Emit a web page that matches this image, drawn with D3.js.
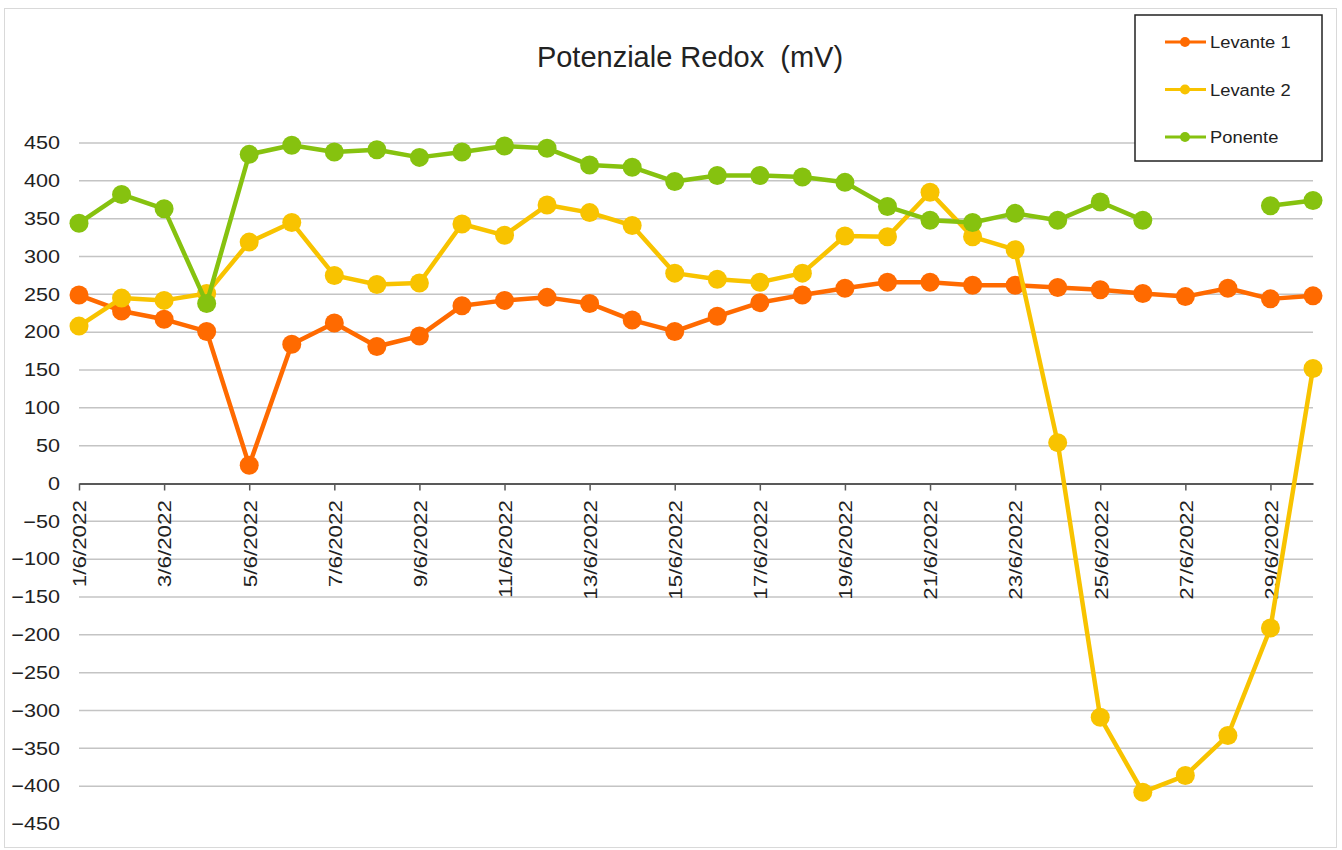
<!DOCTYPE html>
<html>
<head>
<meta charset="utf-8">
<script src="https://cdn.jsdelivr.net/npm/d3@7"></script>
<style>
  body { margin: 0; background: #fff; }
  svg text { font-family: "Liberation Sans", Arial, sans-serif; fill: #222; }
</style>
</head>
<body>
<div id="chart"></div>
<script>
const dates = ["1/6/2022", "2/6/2022", "3/6/2022", "4/6/2022", "5/6/2022", "6/6/2022",
  "7/6/2022", "8/6/2022", "9/6/2022", "10/6/2022", "11/6/2022", "12/6/2022",
  "13/6/2022", "14/6/2022", "15/6/2022", "16/6/2022", "17/6/2022", "18/6/2022",
  "19/6/2022", "20/6/2022", "21/6/2022", "22/6/2022", "23/6/2022", "24/6/2022",
  "25/6/2022", "26/6/2022", "27/6/2022", "28/6/2022", "29/6/2022", "30/6/2022"];

const levante1 = [249, 228, 217, 201, 24, 184, 212, 181, 195, 235, 242, 246, 238, 216, 201,
  221, 239, 249, 258, 266, 266, 262, 262, 259, 256, 251, 247, 258, 244, 248];

const levante2 = [208, 245, 242, 251, 319, 345, 275, 263, 265, 343, 328, 368, 358, 341, 278,
  270, 266, 278, 327, 326, 385, 326, 309, 54, -309, -408, -386, -333, -191, 152];

const ponente = [344, 382, 363, 238, 435, 447, 438, 441, 431, 438, 446, 443, 421, 418, 399,
  407, 407, 405, 398, 366, 348, 345, 357, 348, 372, 348, null, null, 367, 374];

const yTicks = [450, 400, 350, 300, 250, 200, 150, 100, 50, 0, -50, -100, -150, -200,
  -250, -300, -350, -400, -450];

const seriesNames = ["Levante 1", "Levante 2", "Ponente"];
const seriesColors = ["#ff6a00", "#f8c300", "#86c20f"];

const series = [levante1, levante2, ponente].map((vals, i) => ({
  name: seriesNames[i],
  color: seriesColors[i],
  values: vals.map((v, j) => ({ date: dates[j], v: v }))
}));

const width = 1342;
const height = 850;

const svg = d3.select("#chart")
  .append("svg")
  .attr("width", width)
  .attr("height", height);

// outer frame
svg.append("rect")
  .attr("x", 4.5).attr("y", 8.5)
  .attr("width", 1332).attr("height", 839)
  .attr("fill", "#fff")
  .attr("stroke", "#d9d9d9");

const x = d3.scalePoint().domain(dates).range([79, 1313]).padding(0);
const y = d3.scaleLinear().domain([-450, 450]).range([824, 143]);

// gridlines
svg.append("g")
  .selectAll("line")
  .data(yTicks.filter(d => d !== 0 && d !== -450))
  .enter()
  .append("line")
  .attr("x1", 79)
  .attr("x2", 1313)
  .attr("y1", d => y(d))
  .attr("y2", d => y(d))
  .attr("stroke", "#c4c4c4")
  .attr("stroke-width", 1.5);

// y axis labels (slightly wide glyphs like the original)
const yAxis = svg.append("g")
  .attr("transform", "translate(66,0)")
  .call(d3.axisLeft(y).tickValues(yTicks).tickSize(0).tickPadding(6).tickFormat(d3.format("d")));
yAxis.select(".domain").remove();
yAxis.selectAll(".tick text")
  .attr("x", 0)
  .attr("transform", "translate(-6,0) scale(1.2,1)")
  .style("font-size", "18px")
  .style("font-family", "Liberation Sans, Arial, sans-serif")
  .attr("fill", "#222");

// x axis at zero
const xAxis = svg.append("g")
  .attr("transform", `translate(0,${y(0)})`)
  .call(d3.axisBottom(x).tickValues(dates.filter((d, i) => i % 2 === 0)).tickSize(7).tickSizeOuter(0));
xAxis.select(".domain")
  .attr("stroke", "#595959")
  .attr("stroke-width", 2);
xAxis.selectAll(".tick line")
  .attr("stroke", "#595959")
  .attr("stroke-width", 1.5);
xAxis.selectAll(".tick text")
  .attr("transform", "rotate(-90) scale(1.18,1)")
  .attr("text-anchor", "end")
  .attr("x", -14)
  .attr("y", 0)
  .attr("dy", "0.36em")
  .style("font-size", "19px")
  .style("font-family", "Liberation Sans, Arial, sans-serif")
  .attr("fill", "#222");

// lines
const line = d3.line()
  .defined(d => d.v !== null)
  .x(d => x(d.date))
  .y(d => y(d.v));

const g = svg.append("g");

series.forEach(s => {
  g.append("path")
    .datum(s.values)
    .attr("fill", "none")
    .attr("stroke", s.color)
    .attr("stroke-width", 4.5)
    .attr("stroke-linejoin", "round")
    .attr("d", line);

  g.selectAll(null)
    .data(s.values.filter(d => d.v !== null))
    .enter()
    .append("circle")
    .attr("cx", d => x(d.date))
    .attr("cy", d => y(d.v))
    .attr("r", 9.5)
    .attr("fill", s.color);
});

// title
svg.append("text")
  .attr("x", 690)
  .attr("y", 67)
  .attr("text-anchor", "middle")
  .style("font-size", "29px")
  .style("white-space", "pre")
  .text("Potenziale Redox  (mV)");

// legend
const legend = svg.append("g");
legend.append("rect")
  .attr("x", 1135).attr("y", 15)
  .attr("width", 187).attr("height", 146)
  .attr("fill", "#fff")
  .attr("stroke", "#222")
  .attr("stroke-width", 1.5);

const legendItem = legend.selectAll("g.item")
  .data(series)
  .enter()
  .append("g")
  .attr("class", "item")
  .attr("transform", (d, i) => `translate(0,${42 + i * 47.5})`);

legendItem.append("line")
  .attr("x1", 1165).attr("x2", 1206)
  .attr("stroke", d => d.color)
  .attr("stroke-width", 3);

legendItem.append("circle")
  .attr("cx", 1185)
  .attr("r", 5)
  .attr("fill", d => d.color);

legendItem.append("text")
  .attr("x", 1210)
  .attr("dy", "0.36em")
  .attr("transform", "translate(1210,0) scale(1.08,1) translate(-1210,0)")
  .style("font-size", "17px")
  .text(d => d.name);
</script>
</body>
</html>
